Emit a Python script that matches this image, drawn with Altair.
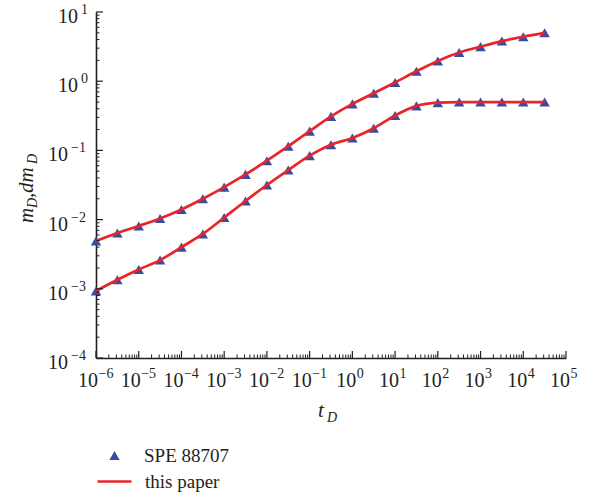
import altair as alt
import pandas as pd

# ---------------- data ----------------
t_values = [1e-6, 3.16e-6, 1e-5, 3.16e-5, 1e-4, 3.16e-4, 1e-3, 3.16e-3, 1e-2, 3.16e-2,
            0.1, 0.316, 1.0, 3.16, 10.0, 31.6, 100.0, 316.0, 1000.0, 3160.0, 10000.0, 31600.0]
m_D = [0.0049, 0.0064, 0.0081, 0.0104, 0.014, 0.020, 0.0295, 0.045, 0.071, 0.115,
       0.19, 0.31, 0.47, 0.67, 0.96, 1.39, 1.96, 2.6, 3.16, 3.8, 4.4, 5.0]
dm_D = [0.00093, 0.00135, 0.0019, 0.0026, 0.0040, 0.0062, 0.0107, 0.0186, 0.0316, 0.052,
        0.084, 0.121, 0.151, 0.209, 0.32, 0.44, 0.49, 0.50, 0.50, 0.50, 0.50, 0.50]
series_points = "SPE 88707"
series_line = "this paper"

x_decades = [-6, -5, -4, -3, -2, -1, 0, 1, 2, 3, 4, 5]
y_decades = [-4, -3, -2, -1, 0, 1]
minor_mult = [2, 3, 4, 5, 6, 7, 8, 9]

# ---------------- style ----------------
W, H = 470, 346
FONT = "'Liberation Serif', 'DejaVu Serif', serif"
INK = "#231f20"
BLUE = "#3a4ca0"
RED = "#e8262a"
LBL = 20
SUP = 14

rows = []
for t, a, b in zip(t_values, m_D, dm_D):
    rows.append({"t": t, "v": a, "curve": "m_D", "src": series_points, "model": series_line})
    rows.append({"t": t, "v": b, "curve": "dm_D", "src": series_points, "model": series_line})
df = pd.DataFrame(rows)


def sup_text(e):
    return ("\u2212" + str(-e)) if e < 0 else str(e)


xt_major = pd.DataFrame({"tv": [10.0 ** e for e in x_decades]})
xt_minor = pd.DataFrame({"tv": [k * 10.0 ** e for e in x_decades[:-1] for k in minor_mult]})
yt_major = pd.DataFrame({"tv": [10.0 ** e for e in y_decades]})
yt_minor = pd.DataFrame({"tv": [k * 10.0 ** e for e in y_decades[:-1] for k in minor_mult]})

xlab = pd.DataFrame({"tv": [10.0 ** e for e in x_decades],
                     "neg": [e < 0 for e in x_decades],
                     "ex": [sup_text(e) for e in x_decades]})
ylab = pd.DataFrame({"tv": [10.0 ** e for e in y_decades],
                     "neg": [e < 0 for e in y_decades],
                     "ex": [sup_text(e) for e in y_decades]})

xs = alt.Scale(type="log", domain=[1e-6, 1e5], nice=False)
ys = alt.Scale(type="log", domain=[1e-4, 10], nice=False)
ax_x = alt.Axis(labels=False, ticks=False, grid=False, title=None,
                domainColor=INK, domainWidth=1.6)
ax_y = alt.Axis(labels=False, ticks=False, grid=False, title=None,
                domainColor=INK, domainWidth=1.6)

points = alt.Chart(df).mark_point(shape="triangle-up", filled=True, size=110, opacity=1).encode(
    x=alt.X("t:Q", scale=xs, axis=ax_x),
    y=alt.Y("v:Q", scale=ys, axis=ax_y),
    color=alt.Color("src:N", scale=alt.Scale(domain=[series_points], range=[BLUE]),
                    legend=alt.Legend(title=None, orient="none", legendX=9, legendY=434,
                                      symbolType="triangle-up", symbolSize=105,
                                      labelFont=FONT, labelFontSize=19, labelColor=INK,
                                      labelOffset=20, padding=0)),
)

line = alt.Chart(df).mark_line(strokeWidth=2.7, interpolate="monotone").encode(
    x=alt.X("t:Q", scale=xs, axis=ax_x),
    y=alt.Y("v:Q", scale=ys, axis=ax_y),
    detail="curve:N",
    stroke=alt.Stroke("model:N", scale=alt.Scale(domain=[series_line], range=[RED]),
                      legend=alt.Legend(title=None, orient="none", legendX=0, legendY=451,
                                        symbolType="stroke", symbolSize=1156,
                                        symbolStrokeWidth=2.6,
                                        labelFont=FONT, labelFontSize=19, labelColor=INK,
                                        labelOffset=12, padding=0)),
)

# inward tick marks
xmaj = alt.Chart(xt_major).mark_rule(color=INK, strokeWidth=1.2).encode(
    x=alt.X("tv:Q", scale=xs, axis=ax_x), y=alt.value(H), y2=alt.value(H - 7))
xmin = alt.Chart(xt_minor).mark_rule(color=INK, strokeWidth=1.0).encode(
    x=alt.X("tv:Q", scale=xs, axis=ax_x), y=alt.value(H), y2=alt.value(H - 3.5))
ymaj = alt.Chart(yt_major).mark_rule(color=INK, strokeWidth=1.2).encode(
    y=alt.Y("tv:Q", scale=ys, axis=ax_y), x=alt.value(0), x2=alt.value(7))
ymin = alt.Chart(yt_minor).mark_rule(color=INK, strokeWidth=1.0).encode(
    y=alt.Y("tv:Q", scale=ys, axis=ax_y), x=alt.value(0), x2=alt.value(3.5))

# tick labels 10^e built from a base and a raised exponent
txt = dict(font=FONT, color=INK)
xl_layers = []
for neg, dx in [(True, 2), (False, 4)]:
    sub = xlab[xlab["neg"] == neg]
    xl_layers.append(alt.Chart(sub).mark_text(align="right", baseline="alphabetic", fontSize=LBL, dx=dx, **txt).encode(
        x=alt.X("tv:Q", scale=xs, axis=ax_x), y=alt.value(H + 29), text=alt.value("10")))
    xl_layers.append(alt.Chart(sub).mark_text(align="left", baseline="alphabetic", fontSize=SUP, dx=dx + 0.5, **txt).encode(
        x=alt.X("tv:Q", scale=xs, axis=ax_x), y=alt.value(H + 20), text="ex:N"))

yl_layers = []
for neg, xbase, xexp in [(True, -28, -10), (False, -18, -8)]:
    sub = ylab[ylab["neg"] == neg]
    yl_layers.append(alt.Chart(sub).mark_text(align="right", baseline="alphabetic", fontSize=LBL, dy=11, **txt).encode(
        y=alt.Y("tv:Q", scale=ys, axis=ax_y), x=alt.value(xbase), text=alt.value("10")))
    yl_layers.append(alt.Chart(sub).mark_text(align="right", baseline="alphabetic", fontSize=SUP, dy=2, **txt).encode(
        y=alt.Y("tv:Q", scale=ys, axis=ax_y), x=alt.value(xexp), text="ex:N"))

# axis titles with subscripts
one = pd.DataFrame({"k": [0]})
title_pieces = [
    ("t", 222, 405, 21),
    ("D", 231, 410, 14),
]
ytitle_pieces = [
    ("m", -63, 211, 21),
    ("D", -59, 196, 14),
    (",", -63, 186, 21),
    ("dm", -63, 181, 21),
    ("D", -59, 152, 14),
]
title_layers = []
for s, x, y, fs in title_pieces:
    title_layers.append(alt.Chart(one).mark_text(align="left", baseline="alphabetic", fontSize=fs,
                                                 fontStyle="italic", **txt).encode(
        x=alt.value(x), y=alt.value(y), text=alt.value(s)))
for s, x, y, fs in ytitle_pieces:
    title_layers.append(alt.Chart(one).mark_text(align="left", baseline="alphabetic", fontSize=fs,
                                                 fontStyle="italic", angle=270, **txt).encode(
        x=alt.value(x), y=alt.value(y), text=alt.value(s)))

chart = alt.layer(points, line, xmaj, xmin, ymaj, ymin, *xl_layers, *yl_layers, *title_layers).properties(
    width=W, height=H,
    autosize=alt.AutoSizeParams(type="none"),
    padding={"left": 96, "top": 12, "right": 26, "bottom": 138},
).configure_view(strokeWidth=0).resolve_scale(color="independent")

chart.save("out.html", embed_options={"renderer": "svg", "actions": False})
